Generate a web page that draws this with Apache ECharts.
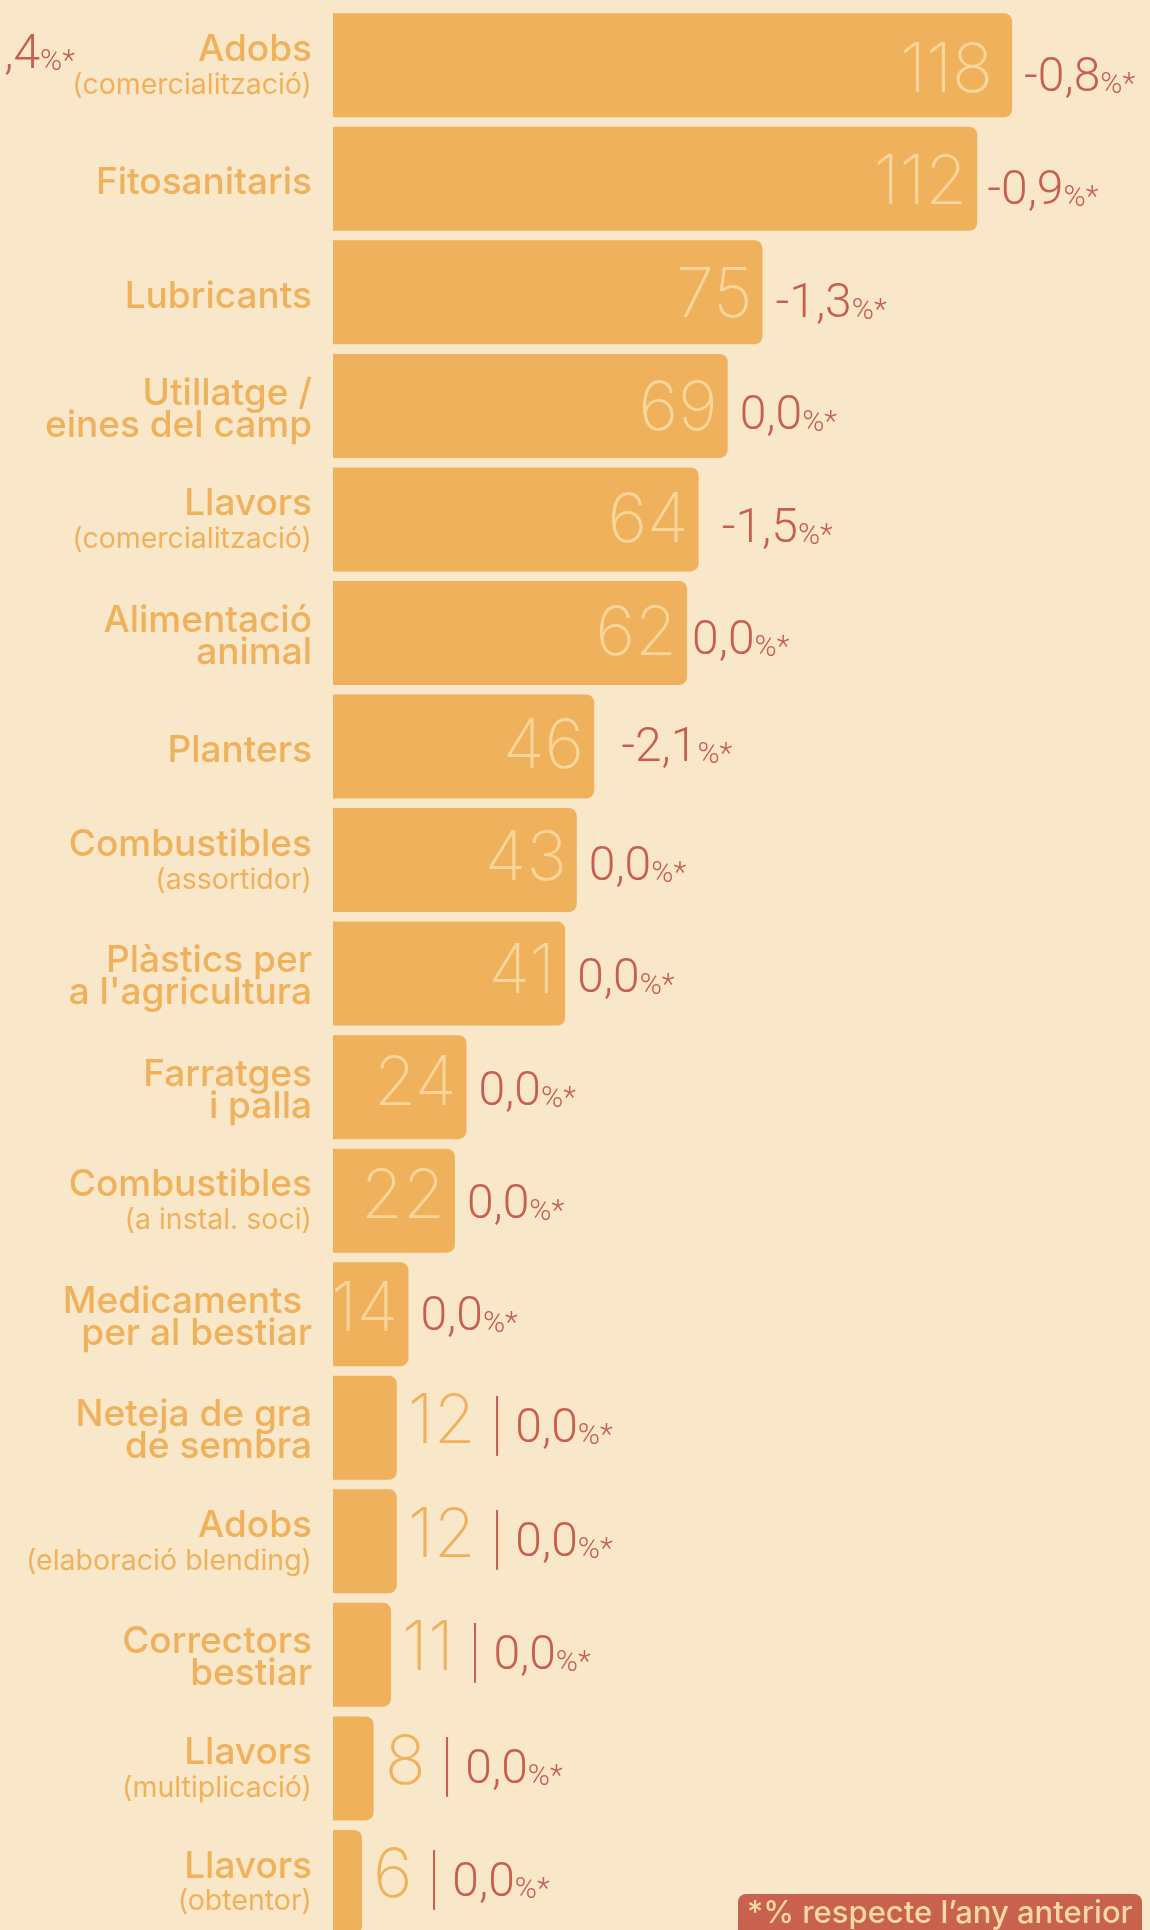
<!DOCTYPE html>
<html><head><meta charset="utf-8">
<script src="https://cdn.jsdelivr.net/npm/echarts@6/dist/echarts.min.js"></script>
<style>html,body{margin:0;padding:0;background:#f8e7c9;overflow:hidden;}#c{width:1150px;height:1930px;}</style>
</head><body><div id="c"></div>
<script>
// ---- data ----
const categoryLine1 = ['Adobs','Fitosanitaris','Lubricants','Utillatge /','Llavors','Alimentació','Planters','Combustibles','Plàstics per','Farratges','Combustibles','Medicaments ','Neteja de gra','Adobs','Correctors','Llavors','Llavors'];
const categoryLine2 = ['(comercialització)','','','eines del camp','(comercialització)','animal','','(assortidor)',"a l'agricultura",'i palla','(a instal. soci)','per al bestiar','de sembra','(elaboració blending)','bestiar','(multiplicació)','(obtentor)'];
const values = [118,112,75,69,64,62,46,43,41,24,22,14,12,12,11,8,6];
const changes = ['-0,8','-0,9','-1,3','0,0','-1,5','0,0','-2,1','0,0','0,0','0,0','0,0','0,0','0,0','0,0','0,0','0,0','0,0'];
const clippedChange = '-1,4';
const footnote = '*% respecte l\u2019any anterior';

// ---- style ----
const BG = '#f8e7c9', BAR = '#f0b15c', LIGHT = '#f8d59b', RED = '#c85e4e', FOOT_TXT = '#f8d9a0';
const F = 'Inter', FR = 'Roboto';
const INSIDE_MIN = 14;
// small per-row label placement tweaks (pixels), following the original layout
const changeLabelExtraGap = [0,-2,1,0,11,-7,15,0,0,0,0,0,0,0,0,0,0];
const changeLabelExtraDy  = [0,0,0,0,0,0,-6,0,0,0,0,0,0,0,0,0,0];
const valueLabelExtraGap  = [9,0,0,0,0,0,0,0,0,0,0,0,0,0,0,0,0];
const rowDrift = i => 3 - 0.9 * i;

const labelRich = {
  v:  {fontFamily:F, fontSize:68, fontWeight:200, color:LIGHT, height:49, lineHeight:49, verticalAlign:'bottom'},
  vo: {fontFamily:F, fontSize:68, fontWeight:200, color:BAR, height:49, lineHeight:49, verticalAlign:'bottom'},
  p:  {fontFamily:FR, fontSize:48, fontWeight:300, color:RED, height:34, lineHeight:34, verticalAlign:'bottom'},
  s:  {fontFamily:FR, fontSize:30, fontWeight:300, color:RED, height:21, lineHeight:21, verticalAlign:'bottom'},
  sep:{fontFamily:F, fontSize:50, fontWeight:200, color:RED, height:36, lineHeight:36, verticalAlign:'bottom'},
  g1: {width:14, height:34, lineHeight:34, verticalAlign:'bottom'},
  g2: {width:11, height:34, lineHeight:34, verticalAlign:'bottom'}
};
const graphicRich = {
  p: {fontFamily:FR, fontSize:48, fontWeight:300, fill:RED, height:34, lineHeight:34, verticalAlign:'bottom'},
  s: {fontFamily:FR, fontSize:30, fontWeight:300, fill:RED, height:21, lineHeight:21, verticalAlign:'bottom'}
};

const catNames = categoryLine1.map((l, i) => l + (categoryLine2[i] ? '\n' + categoryLine2[i] : ''));

const seriesMain = values.map((v, i) => ({
  value: v,
  label: {show: v >= INSIDE_MIN, offset:[-valueLabelExtraGap[i], 3 + rowDrift(i)]}
}));
const seriesSide = values.map((v, i) => ({
  value: v,
  label: v >= INSIDE_MIN
    ? {offset:[0, 11 + rowDrift(i) + changeLabelExtraDy[i]], distance:12 + changeLabelExtraGap[i]}
    : {offset:[0, -5], distance:11 + changeLabelExtraGap[i]}
}));

const chart = echarts.init(document.getElementById('c'), null, {renderer:'canvas'});
chart.setOption({
  backgroundColor: BG,
  animation: false,
  grid: {left:333, top:8.5, width:812.6, height:1930.2, containLabel:false, outerBoundsMode:'none'},
  xAxis: {type:'value', min:1, max:141, show:false},
  yAxis: {
    type:'category', inverse:true, data:catNames,
    axisLine:{show:false}, axisTick:{show:false}, splitLine:{show:false},
    axisLabel:{
      margin:21, align:'right',
      formatter: (val, idx) => {
        const l1 = categoryLine1[idx], l2 = categoryLine2[idx];
        if (!l2) return '{o|' + l1 + '}';
        if (l2.charAt(0) === '(') return '{h|' + l1 + '}\n{b|' + l2 + '}';
        return '{a1|' + l1 + '}\n{a|' + l2 + '}';
      },
      rich:{
        a:{fontFamily:F, fontSize:37, fontWeight:500, color:BAR, lineHeight:32, align:'right'},
        a1:{fontFamily:F, fontSize:37, fontWeight:500, color:BAR, lineHeight:39, height:32, verticalAlign:'bottom', align:'right'},
        h:{fontFamily:F, fontSize:37, fontWeight:500, color:BAR, lineHeight:40, align:'right'},
        b:{fontFamily:F, fontSize:28.5, fontWeight:400, color:BAR, lineHeight:31, align:'right'},
        o:{fontFamily:F, fontSize:37, fontWeight:500, color:BAR, lineHeight:32, padding:[9,0,0,0], align:'right'}
      }
    }
  },
  series: [
    {
      type:'bar', data:seriesMain, barWidth:104, clip:true,
      itemStyle:{color:BAR, borderRadius:[0,8,8,0]},
      label:{position:'insideRight', distance:10,
        formatter: p => '{v|' + p.value + '}', rich: labelRich},
      z:2
    },
    {
      type:'bar', data:seriesSide, barWidth:104, barGap:'-100%', clip:true,
      itemStyle:{color:'rgba(0,0,0,0)'},
      label:{show:true, position:'right',
        formatter: p => {
          const c = changes[p.dataIndex];
          if (p.value >= INSIDE_MIN) return '{p|' + c + '}{s|%*}';
          return '{vo|' + p.value + '}{g1| }{sep||}{g2| }{p|' + c + '}{s|%*}';
        },
        rich: labelRich},
      z:3
    }
  ],
  graphic: [
    {type:'text', x:75, y:73, z:10,
      style:{text:'{p|' + clippedChange + '}{s|%*}', rich:graphicRich, align:'right', verticalAlign:'bottom'}},
    {type:'rect', x:738, y:1894, z:10, shape:{x:0, y:0, width:404, height:60, r:8}, style:{fill:'#c9614f'}},
    {type:'text', x:747, y:1914, z:11,
      style:{text:footnote, fontFamily:F, fontSize:31, fontWeight:500, fill:FOOT_TXT, verticalAlign:'middle'}}
  ]
});
</script></body></html>
